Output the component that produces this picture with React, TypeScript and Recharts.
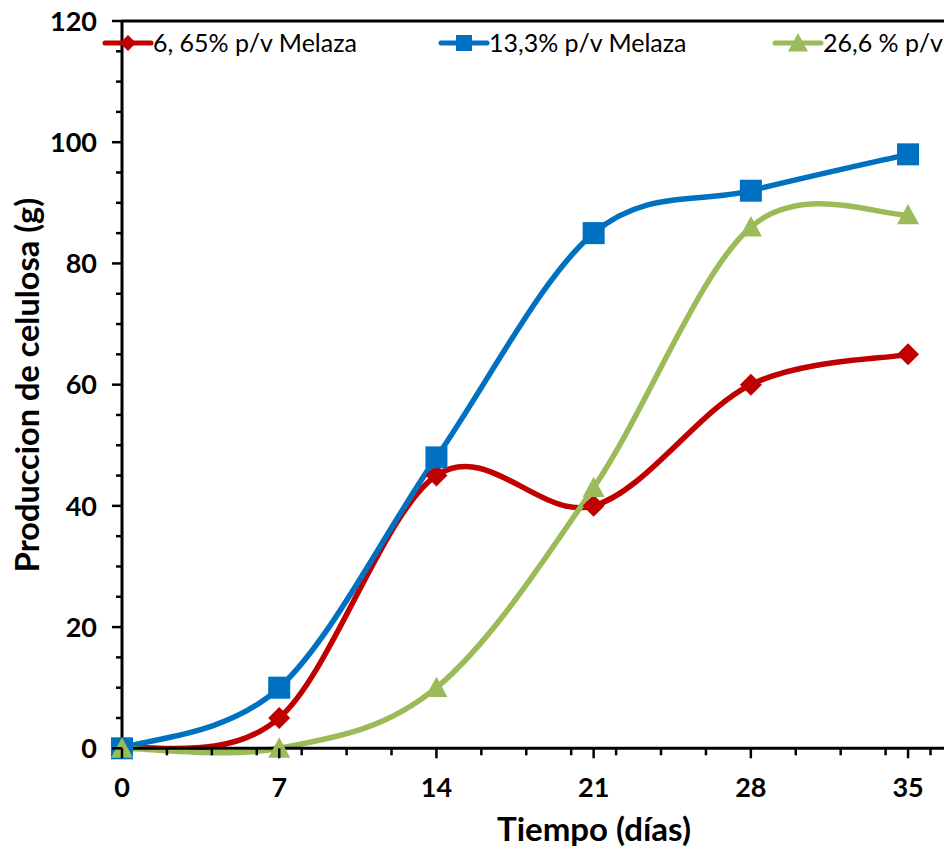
import React from 'react';
import { LineChart, Line, XAxis, YAxis, ReferenceLine } from 'recharts';

const days = [0, 7, 14, 21, 28, 35];
const melaza665 = [0, 5, 45, 40, 60, 65];
const melaza133 = [0, 10, 48, 85, 92, 98];
const pv266 = [0, 0, 10, 43, 86, 88];

const seriesNames = ['6, 65% p/v Melaza', '13,3% p/v Melaza', '26,6 % p/v'];
const yTicks = [0, 5, 10, 15, 20, 25, 30, 35, 40, 45, 50, 55, 60, 65, 70, 75, 80, 85, 90, 95, 100, 105, 110, 115, 120];
const xTicks = [0, 2, 4, 6, 7, 8, 10, 12, 14, 16, 18, 20, 21, 22, 24, 26, 28, 30, 32, 34, 35, 36];

const data = days.map((d, i) => ({ day: d, a: melaza665[i], b: melaza133[i], c: pv266[i] }));

const FONT = 'Lato, "Open Sans", sans-serif';
const RED = '#C00000';
const BLUE = '#0070C0';
const GREEN = '#9BBB59';

// Excel-style smoothed line (Catmull-Rom, tension 1/6)
const excelCurve = (context: any) => {
  let pts: number[][] = [];
  return {
    areaStart() {},
    areaEnd() {},
    lineStart() {
      pts = [];
    },
    point(x: number, y: number) {
      pts.push([+x, +y]);
    },
    lineEnd() {
      if (!pts.length) return;
      context.moveTo(pts[0][0], pts[0][1]);
      for (let i = 0; i < pts.length - 1; i++) {
        const p0 = pts[i - 1] || pts[i];
        const p1 = pts[i];
        const p2 = pts[i + 1];
        const p3 = pts[i + 2] || p2;
        context.bezierCurveTo(
          p1[0] + (p2[0] - p0[0]) / 6,
          p1[1] + (p2[1] - p0[1]) / 6,
          p2[0] - (p3[0] - p1[0]) / 6,
          p2[1] - (p3[1] - p1[1]) / 6,
          p2[0],
          p2[1]
        );
      }
    },
  };
};

const Marker = ({ shape, cx, cy, color, s }: any) => {
  if (shape === 'diamond') {
    return <path d={`M${cx},${cy - s} L${cx + s},${cy} L${cx},${cy + s} L${cx - s},${cy} Z`} fill={color} />;
  }
  if (shape === 'square') {
    return <rect x={cx - s} y={cy - s} width={s * 2} height={s * 2} fill={color} />;
  }
  return <path d={`M${cx},${cy - s} L${cx + s},${cy + s * 0.85} L${cx - s},${cy + s * 0.85} Z`} fill={color} />;
};

const makeDot = (shape: string, color: string, s: number) => (props: any) =>
  <Marker key={props.index} shape={shape} cx={props.cx} cy={props.cy} color={color} s={s} />;

const YTick = (props: any) => {
  const { x, y, payload } = props;
  const major = payload.value % 20 === 0;
  return (
    <g>
      <line x1={x - (major ? 10 : 6)} x2={x} y1={y} y2={y} stroke="#000" strokeWidth={2.5} />
      {major && (
        <text x={x - 25} y={y} dy="0.36em" textAnchor="end" fontFamily={FONT} fontWeight="bold" fontSize={27} fill="#000">
          {payload.value}
        </text>
      )}
    </g>
  );
};

const XTick = (props: any) => {
  const { x, y, payload } = props;
  const major = payload.value % 7 === 0;
  return (
    <g>
      <line x1={x} x2={x} y1={y} y2={y + (major ? 10 : 7)} stroke="#000" strokeWidth={2.5} />
      {major && (
        <text x={x} y={y + 49} textAnchor="middle" fontFamily={FONT} fontWeight="bold" fontSize={27} fill="#000">
          {payload.value}
        </text>
      )}
    </g>
  );
};

const legendItems = [
  { name: seriesNames[0], color: RED, shape: 'diamond', left: 105, s: 8 },
  { name: seriesNames[1], color: BLUE, shape: 'square', left: 441, s: 8 },
  { name: seriesNames[2], color: GREEN, shape: 'triangle', left: 775, s: 10 },
];

export default function App() {
  return (
    <div style={{ position: 'absolute', left: 0, top: 0, width: 946, height: 850, background: '#fff' }}>
      <LineChart width={946} height={850} data={data} margin={{ top: 21, right: 2, left: 0, bottom: 0 }}>
        <XAxis
          dataKey="day"
          type="number"
          domain={[0, 36.6]}
          ticks={xTicks}
          interval={0}
          tick={<XTick />}
          tickLine={false}
          tickSize={0}
          tickMargin={0}
          height={101.7}
          axisLine={{ stroke: '#000', strokeWidth: 3 }}
          label={{
            content: () => (
              <text x={594} y={841} textAnchor="middle" fontFamily={FONT} fontWeight="bold" fontSize={33} fill="#000">
                Tiempo (días)
              </text>
            ),
          }}
        />
        <YAxis
          type="number"
          domain={[0, 120]}
          ticks={yTicks}
          interval={0}
          tick={<YTick />}
          tickLine={false}
          tickSize={0}
          tickMargin={0}
          width={122}
          axisLine={{ stroke: '#000', strokeWidth: 3 }}
          label={{
            content: () => (
              <text
                x={39}
                y={385}
                transform="rotate(-90 39 385)"
                textAnchor="middle"
                fontFamily={FONT}
                fontWeight="bold"
                fontSize={32.5}
                fill="#000"
              >
                Produccion de celulosa (g)
              </text>
            ),
          }}
        />
        <ReferenceLine y={120} stroke="#000" strokeWidth={3} />
        <Line dataKey="a" type={excelCurve as any} stroke={RED} strokeWidth={5.5} dot={makeDot('diamond', RED, 11)} isAnimationActive={false} />
        <Line dataKey="b" type={excelCurve as any} stroke={BLUE} strokeWidth={5.5} dot={makeDot('square', BLUE, 11)} isAnimationActive={false} />
        <Line dataKey="c" type={excelCurve as any} stroke={GREEN} strokeWidth={5.5} dot={makeDot('triangle', GREEN, 11)} isAnimationActive={false} />
      </LineChart>
      <svg width={946} height={70} style={{ position: 'absolute', left: 0, top: 0 }}>
        {legendItems.map((it) => (
          <g key={it.name}>
            <line x1={it.left} x2={it.left + 46} y1={43} y2={43} stroke={it.color} strokeWidth={5} strokeLinecap="round" />
            <Marker shape={it.shape} cx={it.left + 23} cy={43} color={it.color} s={it.s} />
            <text x={it.left + 48} y={43} dy="0.36em" fontFamily={FONT} fontSize={25} fill="#000">
              {it.name}
            </text>
          </g>
        ))}
      </svg>
    </div>
  );
}
